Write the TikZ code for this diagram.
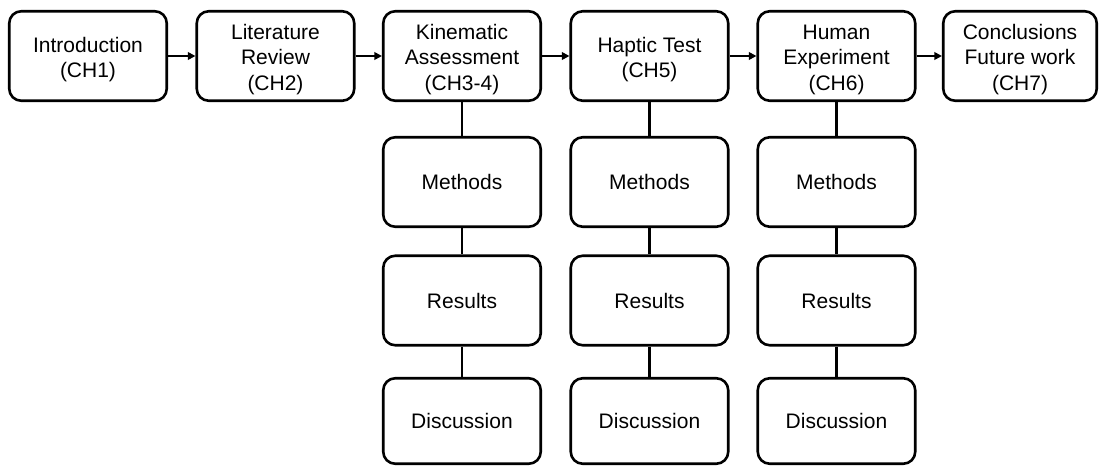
\documentclass[tikz,border=0pt]{standalone}
\usepackage{fontspec}
\setmainfont{Liberation Sans}
\usetikzlibrary{arrows.meta}
\begin{document}
\begin{tikzpicture}[x=1pt,y=-1pt,
  chbox/.style={draw=black, line width=2.6pt, rounded corners=12pt, fill=white,
    minimum width=157.5pt, minimum height=89.5pt, align=center,
    font=\fontsize{21pt}{25.5pt}\selectfont, inner sep=0pt},
  multi/.style={chbox, label={[font=\fontsize{21pt}{25.5pt}\selectfont, align=center, inner sep=0pt, yshift=-3.5pt]center:#1}},
  subbox/.style={chbox},
  flow/.style={line width=2.3pt, -{Triangle[length=7.5pt,width=7.5pt]}},
  link/.style={line width=2.4pt}]
\useasboundingbox (0,0) rectangle (1101,466);
\node[multi={Introduction\\(CH1)}] (intro) at (88,56) {};
\node[multi={Literature\\Review\\(CH2)}] (lit) at (275.5,56) {};
\node[multi={Kinematic\\Assessment\\(CH3-4)}] (kin) at (462,56) {};
\node[multi={Haptic Test\\(CH5)}] (hap) at (649.5,56) {};
\node[multi={Human\\Experiment\\(CH6)}] (hum) at (836.5,56) {};
\node[multi={Conclusions\\Future work\\(CH7)}, minimum width=153.5pt] (con) at (1020,56) {};

\node[subbox] (m1) at (462,182) {Methods};
\node[subbox] (r1) at (462,300.5) {Results};
\node[subbox, minimum height=85.5pt] (d1) at (462,421) {Discussion};
\node[subbox] (m2) at (649.5,182) {Methods};
\node[subbox] (r2) at (649.5,300.5) {Results};
\node[subbox, minimum height=85.5pt] (d2) at (649.5,421) {Discussion};
\node[subbox] (m3) at (836.5,182) {Methods};
\node[subbox] (r3) at (836.5,300.5) {Results};
\node[subbox, minimum height=85.5pt] (d3) at (836.5,421) {Discussion};

\draw[flow] (intro) -- (lit);
\draw[flow] (lit) -- (kin);
\draw[flow] (kin) -- (hap);
\draw[flow] (hap) -- (hum);
\draw[flow] (hum) -- (con);

\foreach \t/\m/\r/\d in {kin/m1/r1/d1, hap/m2/r2/d2, hum/m3/r3/d3}{
  \draw[link] (\t) -- (\m);
  \draw[link] (\m) -- (\r);
  \draw[link] (\r) -- (\d);
}
\end{tikzpicture}
\end{document}
